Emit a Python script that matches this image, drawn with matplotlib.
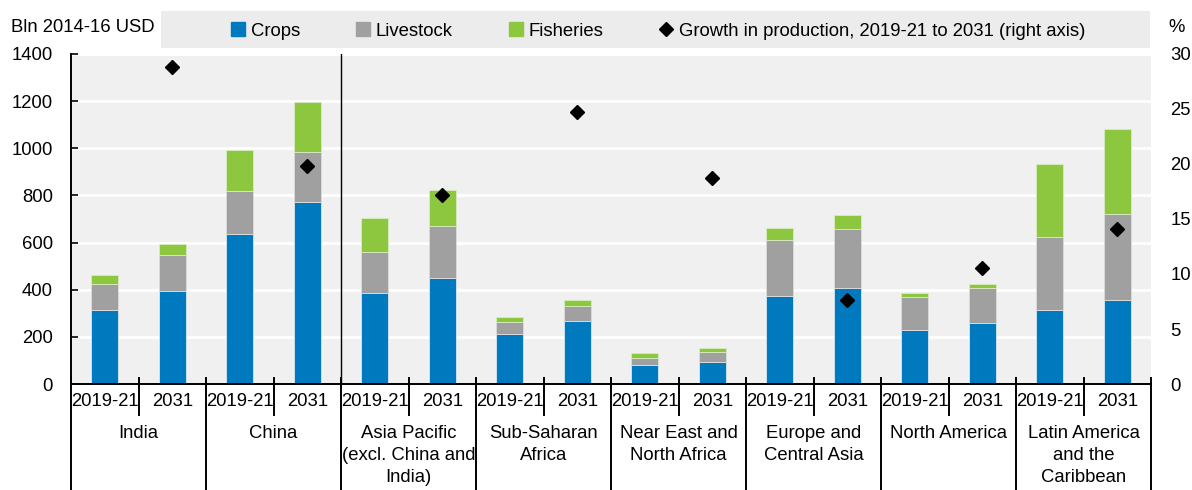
import numpy as np
import matplotlib.pyplot as plt
import matplotlib.patches as mpatches
from matplotlib.lines import Line2D
from matplotlib import font_manager

# Data (Bln 2014-16 USD), base period 2019-21 and 2031
regions = ["India", "China", "Asia Pacific\n(excl. China and\nIndia)", "Sub-Saharan\nAfrica",
           "Near East and\nNorth Africa", "Europe and\nCentral Asia", "North America",
           "Latin America\nand the\nCaribbean"]
periods = ["2019-21", "2031"]
crops_base = [314, 636, 386, 212, 81, 373, 229, 314]
crops_2031 = [395, 772, 450, 267, 93, 407, 259, 356]
livestock_base = [110, 183, 174, 51, 29, 238, 140, 310]
livestock_2031 = [152, 212, 220, 64, 43, 251, 148, 365]
fish_base = [38, 174, 144, 21, 22, 51, 17, 309]
fish_2031 = [47, 212, 153, 25, 17, 59, 17, 361]
growth = [28.8, 19.8, 17.2, 24.7, 18.7, 7.6, 10.5, 14.1]  # %, right axis

c_crops = '#0079bf'
c_live = '#a0a0a0'
c_fish = '#8dc63f'
bg = '#f0f0f0'

names = {f.name for f in font_manager.fontManager.ttflist}
if 'Liberation Sans Narrow' in names:
    plt.rcParams['font.family'] = ['Liberation Sans Narrow', 'DejaVu Sans']
    fs = 15
else:
    plt.rcParams['font.family'] = ['Liberation Sans', 'DejaVu Sans']
    fs = 13.3

# interleave base / 2031
crops = np.ravel(np.column_stack([crops_base, crops_2031]))
live = np.ravel(np.column_stack([livestock_base, livestock_2031]))
fish = np.ravel(np.column_stack([fish_base, fish_2031]))
x = np.arange(len(crops))

W, H = 1192, 490
fig = plt.figure(figsize=(W / 100, H / 100), dpi=100)
ax = fig.add_axes([71 / W, (H - 384) / H, 1080 / W, 330 / H])
ax.set_facecolor(bg)

ax.bar(x, crops, 0.4, color=c_crops, edgecolor='#d8e8f2', linewidth=0.6, zorder=2)
ax.bar(x, live, 0.4, bottom=crops, color=c_live, edgecolor='#dcdcdc', linewidth=0.6, zorder=2)
ax.bar(x, fish, 0.4, bottom=crops + live, color=c_fish, edgecolor='#d8ecc0', linewidth=0.6, zorder=2)

ax.set_xlim(-0.5, len(x) - 0.5)
ax.set_ylim(0, 1400)
ax.set_yticks(np.arange(0, 1401, 200))
ax.yaxis.grid(True, color='white', linewidth=2)
ax.set_axisbelow(True)
ax.tick_params(axis='y', direction='in', length=5, width=1.2, pad=13, labelsize=fs)
ax.set_xticks([])
for s in ['top', 'right']:
    ax.spines[s].set_visible(False)
for s in ['left', 'bottom']:
    ax.spines[s].set_linewidth(1.4)
    ax.spines[s].set_color('black')

# separator between China and other regions
ax.axvline(3.5, color='black', linewidth=1, zorder=1)

# right axis
ax2 = ax.twinx()
ax2.plot(x[1::2], growth, linestyle='none', marker='D', markersize=7.5, color='black', zorder=5)
ax2.set_ylim(0, 30)
ax2.set_yticks(np.arange(0, 31, 5))
ax2.tick_params(axis='y', length=0, pad=14, labelsize=fs)
for s in ax2.spines.values():
    s.set_visible(False)

# category axis lines and labels
tr = ax.get_xaxis_transform()
y_small = -31 / 330
y_long = -110 / 330
for i in range(len(regions)):
    ax.plot([2 * i + 0.5] * 2, [0.018, y_small], color='black', lw=1.4, clip_on=False, transform=tr)
for i in range(len(regions) + 1):
    ax.plot([2 * i - 0.5] * 2, [0.018, y_long], color='black', lw=1.4, clip_on=False, transform=tr)
for xi in x:
    ax.text(xi, -17 / 330, periods[xi % 2], ha='center', va='center', fontsize=fs, transform=tr)
for i, r in enumerate(regions):
    ax.text(2 * i + 0.5, -41 / 330, r, ha='center', va='top', fontsize=fs,
            linespacing=1.38, transform=tr)

# titles of axes
fig.text(11 / W, 1 - 27 / H, 'Bln 2014-16 USD', ha='left', va='center', fontsize=fs)
fig.text(1168 / W, 1 - 27 / H, '%', ha='left', va='center', fontsize=fs)

# legend with grey box
fig.patches.append(mpatches.Rectangle((161 / W, 1 - 48 / H), (1150 - 161) / W, 37 / H,
                                      transform=fig.transFigure, facecolor='#ececec',
                                      edgecolor='none', zorder=0))
handles = [Line2D([], [], linestyle='none', marker='s', markersize=10, color=c_crops),
           Line2D([], [], linestyle='none', marker='s', markersize=10, color=c_live),
           Line2D([], [], linestyle='none', marker='s', markersize=10, color=c_fish),
           Line2D([], [], linestyle='none', marker='D', markersize=7, color='black')]
labels = ['Crops', 'Livestock', 'Fisheries', 'Growth in production, 2019-21 to 2031 (right axis)']
fig.legend(handles, labels, loc='center', bbox_to_anchor=(658 / W, 1 - 31 / H), ncol=4,
           frameon=False, fontsize=fs, handlelength=0.8, handletextpad=0.3,
           columnspacing=3.0, borderpad=0)

fig.savefig('out.png', dpi=100)
